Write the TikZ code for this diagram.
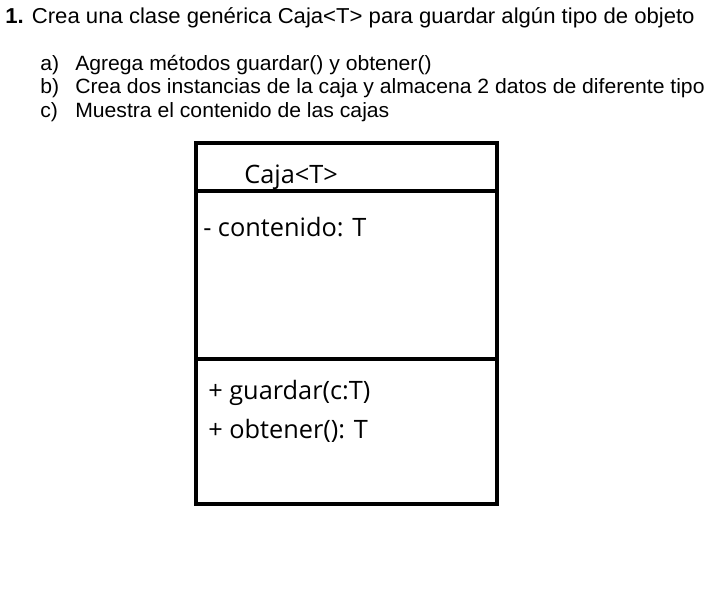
\documentclass[tikz,border=0pt]{standalone}
\usepackage{fontspec}
\setmainfont{Liberation Sans}[FakeStretch=1.024]
\newfontfamily\umlfont{Open Sans}
\usetikzlibrary{positioning}
\newcommand{\titletxt}{\fontsize{16.2pt}{19pt}\selectfont}
\newcommand{\itemtxt}{\fontsize{15.5pt}{18pt}\selectfont}
\newcommand{\umltxt}{\umlfont\fontsize{19pt}{22pt}\selectfont}

\begin{document}
\begin{tikzpicture}[x=.75pt,y=-.75pt]
\useasboundingbox (0,0) rectangle (720,602);
\tikzset{
  enun/.style={anchor=base west,inner sep=0pt,font=\itemtxt},
  uml/.style={anchor=base west,inner sep=0pt,font=\umltxt},
  umlline/.style={line width=2.4pt}
}
%enunciado
\node[enun,font=\titletxt] (titulo) at (5,24) {\textbf{1.} Crea una clase genérica Caja<T> para guardar algún tipo de objeto};
\node[enun] (la) at (40,71) {a)};
\node[enun] (lb) at (40,94) {b)};
\node[enun] (lc) at (40,118) {c)};
\node[enun] (ia) at (75,71) {Agrega métodos guardar() y obtener()};
\node[enun] (ib) at (75,94) {Crea dos instancias de la caja y almacena 2 datos de diferente tipo};
\node[enun] (ic) at (75,118) {Muestra el contenido de las cajas};
%clase Caja<T>
\coordinate (nw) at (196,143);
\coordinate (se) at (497,504);
\draw[umlline] (nw) rectangle (se);
\draw[umlline] (196,191) -- (497,191);
\draw[umlline] (196,359) -- (497,359);
\node[uml] (nombre) at (244,184) {Caja<T>};
\node[uml] (attr) at (203,236) {- contenido: T};
\node[uml] (m1) at (208,399) {+ guardar(c:T)};
\node[uml] (m2) at (208,438) {+ obtener(): T};
\end{tikzpicture}
\end{document}
